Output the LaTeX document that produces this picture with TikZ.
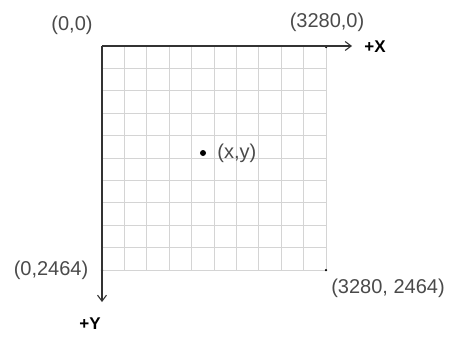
\documentclass[tikz,border=0pt]{standalone}
\usepackage{fontspec}
\setmainfont{Liberation Sans}
\usetikzlibrary{arrows.meta,positioning}
\definecolor{pxGrid}{HTML}{D4D4D4}
\definecolor{pxAxis}{HTML}{333333}
\definecolor{pxText}{HTML}{4A4A4A}
\tikzset{
    pxGridLine/.style={draw=pxGrid, line width=1pt},
    pxAxisArrow/.style={draw=pxAxis, line width=1.1pt, -{Straight Barb[length=6pt,width=9pt]}},
    pxLabel/.style={font=\fontsize{20}{23}\selectfont, text=pxText, inner sep=0pt},
    pxAxisName/.style={font=\fontsize{17}{20}\selectfont\bfseries, text=black, inner sep=0pt},
    pxDot/.style={circle, fill=black, inner sep=0pt, minimum size=6pt},
    pxCorner/.style={circle, fill=black, inner sep=0pt, minimum size=2.5pt}
}
\begin{document}
\begin{tikzpicture}[x=1pt, y=-1pt]
    \useasboundingbox (0,0) rectangle (449,338);

    % Grid
    \foreach \i in {0,...,10} {
        \draw[pxGridLine] (102+22.4*\i, 46) -- (102+22.4*\i, 270);
        \draw[pxGridLine] (102, 46+22.4*\i) -- (326, 46+22.4*\i);
    }

    % Corner points
    \coordinate (origin) at (102, 46);
    \coordinate (xend) at (352, 46);
    \coordinate (yend) at (102, 302);
    \node[pxCorner] (topRight) at (326, 47) {};
    \node[pxCorner] (botLeft) at (102, 270) {};
    \node[pxCorner] (botRight) at (326, 270) {};

    % Axes
    \draw[pxAxisArrow] (origin) -- (xend);
    \draw[pxAxisArrow] (origin) -- (yend);

    % Labels
    \node[pxLabel] (lblOrigin) at (72, 25) {(0,0)};
    \node[pxLabel] (lblTopRight) at (327, 22) {(3280,0)};
    \node[pxLabel] (lblBotLeft) at (51, 270) {(0,2464)};
    \node[pxLabel] (lblBotRight) at (388, 288) {(3280, 2464)};
    \node[pxAxisName] (lblX) at (375, 47) {+X};
    \node[pxAxisName] (lblY) at (90, 324) {+Y};

    % Sample point
    \node[pxDot] (point) at (203, 153) {};
    \node[pxLabel, right=11pt of point] (lblPoint) {(x,y)};
\end{tikzpicture}
\end{document}
